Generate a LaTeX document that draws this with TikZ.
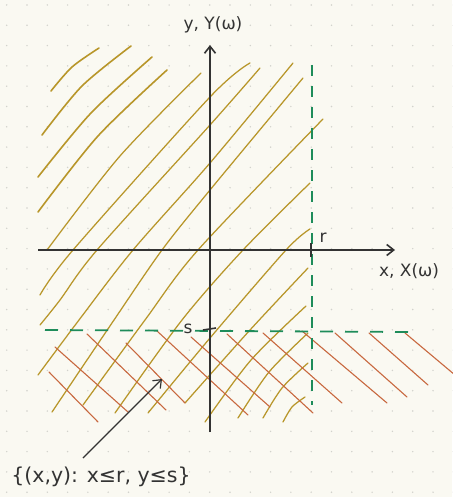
\documentclass[tikz,border=0pt]{standalone}
\usepackage{fontspec}
\setmainfont{DejaVu Sans}
\usetikzlibrary{arrows.meta}
\definecolor{bgc}{HTML}{FAF9F2}
\definecolor{dotc}{HTML}{D2D2CC}
\definecolor{goldc}{HTML}{B8962A}
\definecolor{orangec}{HTML}{C8683F}
\definecolor{greenc}{HTML}{1E8C5A}
\definecolor{inkc}{HTML}{333333}
\tikzset{
  goldline/.style={goldc, line width=1.25pt, line cap=round},
  goldthick/.style={goldline, line width=1.6pt},
  oline/.style={orangec, line width=1.1pt, line cap=round},
  gdash/.style={greenc, line width=1.8pt},
  axisline/.style={inkc, line width=1.9pt, -{Straight Barb[length=7pt,width=11pt,line width=1.6pt]}},
  hand/.style={inkc, font=\fontsize{17}{20}\selectfont, inner sep=0pt},
}
\begin{document}
\begin{tikzpicture}[x=1pt,y=-1pt]
\useasboundingbox (0,0) rectangle (452,497);
\fill[bgc] (0,0) rectangle (452,497);
% dot grid
\foreach \i in {0,...,22}{
  \foreach \j in {0,...,24}{
    \fill[dotc] ({6.7+20.3*\i},{5+20.3*\j}) circle (0.8pt);
  }
}
% gold hatching
\draw[goldthick] plot[smooth] coordinates {(51,91) (72,67) (99,48)};
\draw[goldthick] plot[smooth] coordinates {(42,135) (82,86) (131,46)};
\draw[goldthick] plot[smooth] coordinates {(38,177) (91,113) (152,57)};
\draw[goldthick] plot[smooth] coordinates {(38,212) (98,136) (167,70)};
\draw[goldline] plot[smooth] coordinates {(47,250) (120,156) (201,73)};
\draw[goldline] plot[smooth] coordinates {(40,295) (73,250) (210,97) (250,63)};
\draw[goldline] plot[smooth] coordinates {(40,325) (60,300) (97,250) (210,125) (260,68)};
\draw[goldline] plot[smooth] coordinates {(38,375) (79,320) (133,250) (210,163) (293,63)};
\draw[goldline] plot[smooth] coordinates {(52,412) (114,320) (162,250) (210,190) (303,78)};
\draw[goldline] plot[smooth] coordinates {(83,405) (145,320) (198,250) (323,119)};
\draw[goldline] plot[smooth] coordinates {(115,413) (182,320) (243,250) (310,183)};
\draw[goldline] plot[smooth] coordinates {(148,413) (210,338) (286,250) (310,229)};
\draw[goldline] plot[smooth] coordinates {(185,403) (250,330) (308,268)};
\draw[goldline] plot[smooth] coordinates {(205,422) (251,360) (306,306)};
\draw[goldline] plot[smooth] coordinates {(238,418) (269,372) (308,333)};
\draw[goldline] plot[smooth] coordinates {(263,418) (282,388) (308,363)};
\draw[goldline] plot[smooth] coordinates {(283,422) (292,407) (305,397)};
% orange hatching
\draw[oline] (49,372) -- (98,422);
\draw[oline] (55,347) -- (128,412);
\draw[oline] (87,334) -- (166,410);
\draw[oline] (126,343) -- (185,403);
\draw[oline] (157,331) -- (248,415);
\draw[oline] (191,337) -- (270,407);
\draw[oline] (227,334) -- (313,413);
\draw[oline] (263,333) -- (342,403);
\draw[oline] (302,331) -- (387,403);
\draw[oline] (335,333) -- (407,397);
\draw[oline] (369,333) -- (428,385);
\draw[oline] (405,333) -- (455,375);
% green dashed bounds
\draw[gdash, dash pattern=on 13pt off 12pt] (45,330) -- (410,332);
\draw[gdash, dash pattern=on 11pt off 10pt] (312,65) -- (312,405);
% axes
\draw[axisline] (38,250) -- (395,250);
\draw[axisline] (210,432) -- (210,45);
% ticks
\draw[inkc, line width=1.8pt] (311,243) -- (311,257);
\draw[inkc, line width=1.6pt] (203,330) -- (216,328);
% labels
\node[hand] (ylab) at (213,25) {y, Y(ω)};
\node[hand] (xlab) at (409,271) {x, X(ω)};
\node[hand] (rlab) at (323,238) {r};
\node[hand] (slab) at (188,329) {s};
\node[hand, font=\fontsize{20.5}{24}\selectfont] (setlab) at (101,477) {\{(x,y): x≤r, y≤s\}};
\coordinate (tail) at (83,458);
\coordinate (tip) at (162,379);
\draw[inkc, line width=1.1pt, -{Straight Barb[length=7pt,width=11pt,line width=1.2pt]}] (tail) -- (tip);
\end{tikzpicture}
\end{document}
